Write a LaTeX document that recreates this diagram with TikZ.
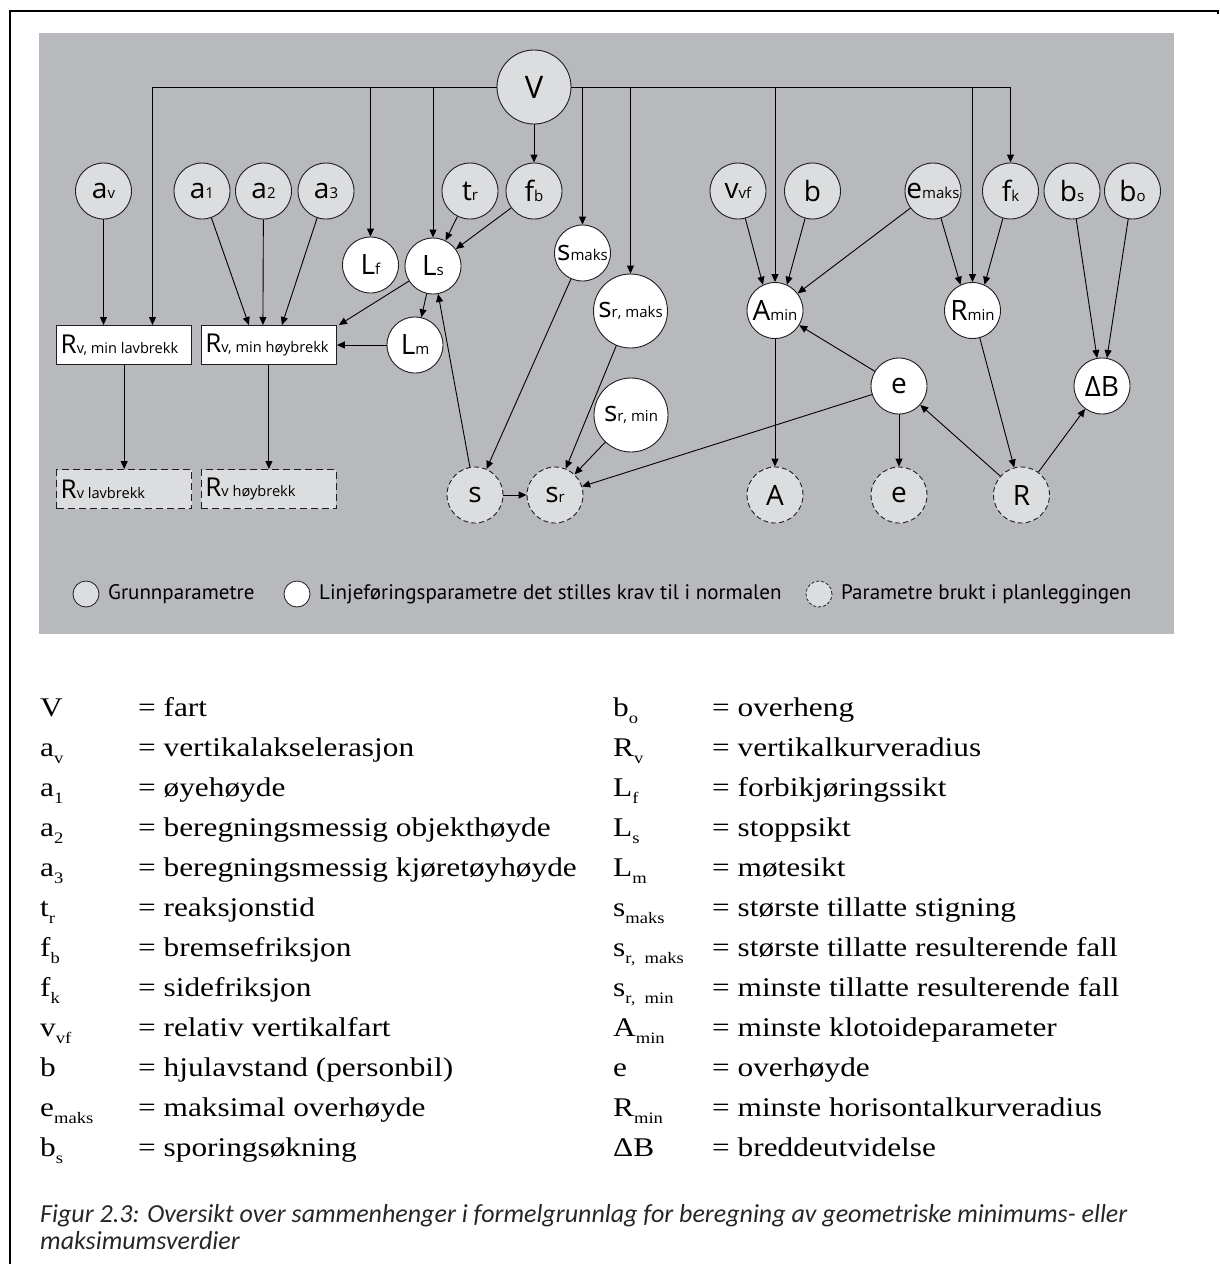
\documentclass[tikz,border=0pt]{standalone}
\usepackage{fontspec}
\setmainfont{Liberation Serif}
\newfontfamily\nf{Open Sans}
\newfontfamily\lf{PT Sans}
\newfontfamily\serifw[FakeStretch=1.16]{Liberation Serif}
\newfontfamily\capf{Carlito}
\usetikzlibrary{arrows.meta,calc}
\definecolor{bggrey}{RGB}{184,185,189}
\definecolor{lgrey}{RGB}{220,221,223}
\definecolor{edgec}{RGB}{30,30,30}
\newcommand\pl[2]{{\fontsize{28}{28}\selectfont #1}{\fontsize{15}{15}\selectfont #2}}
\newcommand\bl[2]{\makebox[127pt][l]{{\fontsize{26}{26}\selectfont #1}{\fontsize{14.6}{14.6}\selectfont #2}}}
\newcommand\sbs[2]{#1\raisebox{-7pt}{\fontsize{16}{16}\selectfont #2}}
\tikzset{
 basec/.style={circle, draw=edgec, line width=0.9pt, inner sep=0pt, minimum size=56pt, font=\nf},
 grunn/.style={basec, fill=lgrey},
 linj/.style={basec, fill=white},
 plan/.style={basec, fill=lgrey, dash pattern=on 5pt off 3pt},
 bigc/.style={minimum size=74pt},
 rbox/.style={rectangle, draw=edgec, line width=1pt, fill=white, minimum width=135pt, minimum height=39pt, inner sep=0pt, font=\nf},
 pbox/.style={rbox, fill=lgrey, dash pattern=on 7pt off 4pt},
 arr/.style={-{Triangle[length=8pt,width=7pt]}, line width=0.9pt},
 ln/.style={line width=0.9pt},
 legc/.style={circle, draw=edgec, line width=0.8pt, minimum size=26pt, inner sep=0pt},
 legt/.style={anchor=west, inner sep=0pt, font=\lf\fontsize{21}{21}\selectfont},
 lsym/.style={anchor=base west, inner sep=0pt, font=\serifw\fontsize{27}{27}\selectfont},
 capt/.style={anchor=base west, inner sep=0pt, font=\capf\itshape\fontsize{26}{26}\selectfont, text=black!85},
}
\begin{document}
\begin{tikzpicture}[x=1pt,y=1pt]
\useasboundingbox (0,0) rectangle (1219,-1264);
\draw[line width=1.2pt] (10,-1264) -- (10,-11) -- (1218,-11) -- (1218,-14);
\fill[bggrey] (39,-33) rectangle (1174,-634);

% nodes
\node[grunn,bigc] (V) at (534,-87) {\fontsize{31}{31}\selectfont V};
\node[grunn] (av) at (103.5,-191) {\pl{a}{v}};
\node[grunn] (a1) at (202,-191) {\pl{a}{1}};
\node[grunn] (a2) at (263.5,-191) {\pl{a}{2}};
\node[grunn] (a3) at (326,-191) {\pl{a}{3}};
\node[grunn] (tr) at (470,-191) {\pl{t}{r}};
\node[grunn] (fb) at (534,-191) {\pl{f}{b}};
\node[grunn] (vvf) at (738,-191) {\pl{v}{vf}};
\node[grunn] (b) at (812.5,-191) {\pl{b}{}};
\node[grunn] (emaks) at (933,-191) {\pl{e}{maks}};
\node[grunn] (fk) at (1010.5,-191) {\pl{f}{k}};
\node[grunn] (bs) at (1072,-191) {\pl{b}{s}};
\node[grunn] (bo) at (1132.5,-191) {\pl{b}{o}};

\node[linj] (Lf) at (370.5,-265) {\pl{L}{f}};
\node[linj] (Ls) at (433,-266) {\pl{L}{s}};
\node[linj] (Lm) at (415,-345) {\pl{L}{m}};
\node[linj] (smaks) at (582.5,-253) {\pl{s}{maks}};
\node[linj,bigc] (Srmaks) at (630.5,-311) {\pl{s}{r, maks}};
\node[linj,bigc] (Srmin) at (631,-415) {\pl{s}{r, min}};
\node[linj] (Amin) at (775,-310.5) {\pl{A}{min}};
\node[linj] (Rmin) at (972.5,-310.5) {\pl{R}{min}};
\node[linj] (e) at (899,-386) {\pl{e}{}};
\node[linj] (dB) at (1102,-386) {\pl{ΔB}{}};

\node[plan] (s) at (475,-495) {\pl{s}{}};
\node[plan] (sr) at (555,-495) {\pl{s}{r}};
\node[plan] (A) at (775,-495) {\pl{A}{}};
\node[plan] (ee) at (899,-495) {\pl{e}{}};
\node[plan] (R) at (1021.5,-495) {\pl{R}{}};

\node[rbox] (Rlav) at (124.2,-345) {\bl{R}{v, min lavbrekk}};
\node[rbox] (Rhoy) at (268.9,-345) {\bl{R}{v, min høybrekk}};
\node[pbox] (Rlavp) at (124.2,-489) {\bl{R}{v lavbrekk}};
\node[pbox] (Rhoyp) at (268.9,-489) {\bl{R}{v høybrekk}};

% V distribution line
\coordinate (tL) at (152.5,-87);
\coordinate (tR) at (1010.5,-87);
\draw[ln] (tL) -- (V.west);
\draw[ln] (V.east) -- (tR);
\draw[arr] (tL) -- (tL |- Rlav.north);
\draw[arr] (tL -| Lf) -- (Lf);
\draw[arr] (tL -| Ls) -- (Ls);
\draw[arr] (tL -| smaks) -- (smaks);
\draw[arr] (tL -| Srmaks) -- (Srmaks);
\draw[arr] (tL -| Amin) -- (Amin);
\draw[arr] (tL -| Rmin) -- (Rmin);
\draw[arr] (tR) -- (fk);
\draw[arr] (V) -- (fb);

% left part
\draw[arr] (av) -- (av |- Rlav.north);
\draw[arr] (a1) -- ($(Rhoy.north)+(-20,0)$);
\draw[arr] (a2) -- ($(Rhoy.north)+(-6,0)$);
\draw[arr] (a3) -- ($(Rhoy.north)+(13,0)$);
\draw[arr] (Ls) -- ($(Rhoy.north east)+(2,0)$);
\draw[arr] (Lm) -- (Rhoy);
\draw[arr] (Rlav) -- (Rlav |- Rlavp.north);
\draw[arr] (Rhoy) -- (Rhoy |- Rhoyp.north);
\draw[arr] (tr) -- (Ls);
\draw[arr] (fb) -- (Ls);
\draw[arr] (Ls) -- (Lm);
\draw[arr] (s) -- (Ls);
\draw[arr] (smaks) -- (s);
\draw[arr] (s) -- (sr);
\draw[arr] (Srmaks) -- (sr);
\draw[arr] (Srmin) -- (sr);
\draw[arr] (e) -- (sr);

% right part
\draw[arr] (vvf) -- (Amin.115);
\draw[arr] (b) -- (Amin.65);
\draw[arr] (emaks) -- (Amin);
\draw[arr] (e) -- (Amin);
\draw[arr] (Amin) -- (A);
\draw[arr] (emaks) -- (Rmin.115);
\draw[arr] (fk) -- (Rmin.65);
\draw[arr] (Rmin) -- (R);
\draw[arr] (R) -- (e);
\draw[arr] (e) -- (ee);
\draw[arr] (R) -- (dB);
\draw[arr] (bs) -- (dB.100);
\draw[arr] (bo) -- (dB.80);

% legend
\node[legc, fill=lgrey] (lg1) at (86,-594) {};
\node[legt] (lt1) at (108,-594) {Grunnparametre};
\node[legc, fill=white] (lg2) at (297,-594) {};
\node[legt] (lt2) at (319,-594) {Linjeføringsparametre det stilles krav til i normalen};
\node[legc, fill=lgrey, dash pattern=on 3pt off 2pt] (lg3) at (819,-594) {};
\node[legt] (lt3) at (841,-594) {Parametre brukt i planleggingen};

% symbol list, left column
\node[lsym] (s01) at (40,-716) {V};
\node[lsym] (d01) at (138,-716) {= fart};
\node[lsym] (s02) at (40,-756) {\sbs{a}{v}};
\node[lsym] (d02) at (138,-756) {= vertikalakselerasjon};
\node[lsym] (s03) at (40,-796) {\sbs{a}{1}};
\node[lsym] (d03) at (138,-796) {= øyehøyde};
\node[lsym] (s04) at (40,-836) {\sbs{a}{2}};
\node[lsym] (d04) at (138,-836) {= beregningsmessig objekthøyde};
\node[lsym] (s05) at (40,-876) {\sbs{a}{3}};
\node[lsym] (d05) at (138,-876) {= beregningsmessig kjøretøyhøyde};
\node[lsym] (s06) at (40,-916) {\sbs{t}{r}};
\node[lsym] (d06) at (138,-916) {= reaksjonstid};
\node[lsym] (s07) at (40,-956) {\sbs{f}{b}};
\node[lsym] (d07) at (138,-956) {= bremsefriksjon};
\node[lsym] (s08) at (40,-996) {\sbs{f}{k}};
\node[lsym] (d08) at (138,-996) {= sidefriksjon};
\node[lsym] (s09) at (40,-1036) {\sbs{v}{vf}};
\node[lsym] (d09) at (138,-1036) {= relativ vertikalfart};
\node[lsym] (s10) at (40,-1076) {b};
\node[lsym] (d10) at (138,-1076) {= hjulavstand (personbil)};
\node[lsym] (s11) at (40,-1116) {\sbs{e}{maks}};
\node[lsym] (d11) at (138,-1116) {= maksimal overhøyde};
\node[lsym] (s12) at (40,-1156) {\sbs{b}{s}};
\node[lsym] (d12) at (138,-1156) {= sporingsøkning};

% symbol list, right column
\node[lsym] (r01) at (613,-716) {\sbs{b}{o}};
\node[lsym] (e01) at (712,-716) {= overheng};
\node[lsym] (r02) at (613,-756) {\sbs{R}{v}};
\node[lsym] (e02) at (712,-756) {= vertikalkurveradius};
\node[lsym] (r03) at (613,-796) {\sbs{L}{f}};
\node[lsym] (e03) at (712,-796) {= forbikjøringssikt};
\node[lsym] (r04) at (613,-836) {\sbs{L}{s}};
\node[lsym] (e04) at (712,-836) {= stoppsikt};
\node[lsym] (r05) at (613,-876) {\sbs{L}{m}};
\node[lsym] (e05) at (712,-876) {= møtesikt};
\node[lsym] (r06) at (613,-916) {\sbs{s}{maks}};
\node[lsym] (e06) at (712,-916) {= største tillatte stigning};
\node[lsym] (r07) at (613,-956) {\sbs{s}{r,~ maks}};
\node[lsym] (e07) at (712,-956) {= største tillatte resulterende fall};
\node[lsym] (r08) at (613,-996) {\sbs{s}{r,~ min}};
\node[lsym] (e08) at (712,-996) {= minste tillatte resulterende fall};
\node[lsym] (r09) at (613,-1036) {\sbs{A}{min}};
\node[lsym] (e09) at (712,-1036) {= minste klotoideparameter};
\node[lsym] (r10) at (613,-1076) {e};
\node[lsym] (e10) at (712,-1076) {= overhøyde};
\node[lsym] (r11) at (613,-1116) {\sbs{R}{min}};
\node[lsym] (e11) at (712,-1116) {= minste horisontalkurveradius};
\node[lsym] (r12) at (613,-1156) {ΔB};
\node[lsym] (e12) at (712,-1156) {= breddeutvidelse};

% caption
\node[capt] (cap1) at (40,-1222) {Figur 2.3: Oversikt over sammenhenger i formelgrunnlag for beregning av geometriske minimums- eller};
\node[capt] (cap2) at (40,-1249) {maksimumsverdier};
\end{tikzpicture}
\end{document}
